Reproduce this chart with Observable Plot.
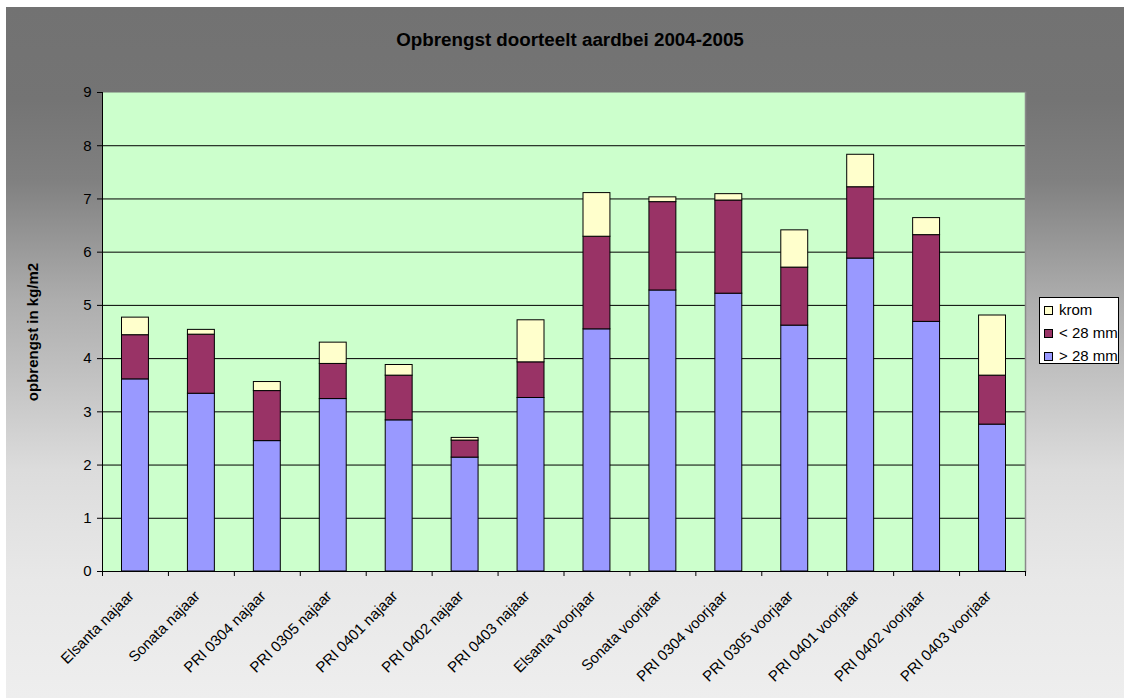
<!DOCTYPE html>
<html>
<head>
<meta charset="utf-8">
<script src="https://cdn.jsdelivr.net/npm/d3@7"></script>
<script src="https://cdn.jsdelivr.net/npm/@observablehq/plot@0.6"></script>
<style>
  html, body { margin: 0; padding: 0; background: #ffffff; }
  body { width: 1124px; height: 698px; position: relative; overflow: hidden; font-family: Arial, "Liberation Sans", sans-serif; }
  #chart {
    position: absolute; left: 6px; top: 7px; width: 1118px; height: 691px;
    background: linear-gradient(to bottom, #727272 0px, #747474 93px, #808080 173px, #adadad 293px, #c0c0c0 363px, #dcdcdc 463px, #e8e8e8 573px, #eeeeee 691px);
  }
  #title {
    position: absolute; left: 5px; width: 1118px; top: 22px; text-align: center;
    font: bold 18.8px Arial, "Liberation Sans", sans-serif; color: #000;
  }
  #legend {
    position: absolute; left: 1033px; top: 290px; width: 80px; height: 67px;
    background: #fff; border: 1px solid #000; box-sizing: border-box;
    font: 15px Arial, "Liberation Sans", sans-serif; color: #000;
  }
  .item { position: absolute; left: 4px; height: 18px; line-height: 18px; white-space: nowrap; }
  .sw { display: inline-block; width: 7px; height: 7px; border: 1px solid #000; vertical-align: middle; margin-right: 6px; position: relative; top: -1px; }
  #plot { position: absolute; left: 0; top: 0; }
</style>
</head>
<body>
<div id="chart">
  <div id="plot"></div>
  <div id="title">Opbrengst doorteelt aardbei 2004-2005</div>
  <div id="legend"></div>
</div>
<script>
const categories = [
  "Elsanta najaar", "Sonata najaar", "PRI 0304 najaar", "PRI 0305 najaar",
  "PRI 0401 najaar", "PRI 0402 najaar", "PRI 0403 najaar",
  "Elsanta voorjaar", "Sonata voorjaar", "PRI 0304 voorjaar", "PRI 0305 voorjaar",
  "PRI 0401 voorjaar", "PRI 0402 voorjaar", "PRI 0403 voorjaar"
];
const seriesNames = ["> 28 mm", "< 28 mm", "krom"];
const over28 = [3.61, 3.34, 2.45, 3.24, 2.84, 2.14, 3.26, 4.55, 5.28, 5.22, 4.62, 5.88, 4.69, 2.76];
const under28 = [0.83, 1.11, 0.94, 0.66, 0.84, 0.32, 0.67, 1.74, 1.66, 1.75, 1.09, 1.34, 1.63, 0.92];
const krom = [0.33, 0.09, 0.17, 0.40, 0.20, 0.05, 0.79, 0.82, 0.09, 0.12, 0.70, 0.61, 0.32, 1.13];
const seriesColors = ["#9999ff", "#993366", "#ffffcc"];
const yTicks = [0, 1, 2, 3, 4, 5, 6, 7, 8, 9];
const gridTicks = [1, 2, 3, 4, 5, 6, 7, 8];
const yLabel = "opbrengst in kg/m2";

const seriesValues = [over28, under28, krom];
const data = categories.flatMap((c, i) =>
  seriesNames.map((s, j) => ({category: c, series: s, value: seriesValues[j][i]}))
);

const W = 1118, H = 691, ML = 96, MR = 99, MT = 85, MB = 127;
const bw = (W - ML - MR) / categories.length;
const font = "Arial, 'Liberation Sans', sans-serif";

const chart = Plot.plot({
  width: W, height: H,
  marginLeft: ML, marginRight: MR, marginTop: MT, marginBottom: MB,
  style: {background: "transparent", fontFamily: font, color: "#000", overflow: "visible"},
  x: {type: "band", domain: categories, padding: 0, round: false, axis: null},
  y: {domain: [0, 9], axis: null},
  color: {domain: seriesNames, range: seriesColors},
  marks: [
    Plot.frame({fill: "#ccffcc", stroke: null}),
    Plot.gridY({ticks: gridTicks, stroke: "#000", strokeOpacity: 1, strokeWidth: 1}),
    Plot.frame({anchor: "right", stroke: "#8a8a8a", strokeWidth: 1.5}),
    Plot.barY(data, {x: "category", y: "value", fill: "series", stroke: "#000", strokeWidth: 1, insetLeft: 19.5, insetRight: 19.5}),
    Plot.frame({anchor: "left", stroke: "#000"}),
    Plot.ruleY([0], {stroke: "#000"}),
    Plot.axisY({ticks: yTicks, tickSize: 5, tickPadding: 6, fontSize: 15, label: null, stroke: "#000"}),
    Plot.axisX({tickSize: 5, tickFormat: () => "", dx: -bw / 2, label: null}),
    Plot.axisX({ticks: [categories[categories.length - 1]], tickSize: 5, tickFormat: () => "", dx: bw / 2, label: null}),
    Plot.axisX({tickSize: 0, tickRotate: -45, tickPadding: 22, dx: -4, fontSize: 15, label: null}),
    Plot.text([yLabel], {frameAnchor: "left", textAnchor: "middle", rotate: -90, dx: -69, fontWeight: "bold", fontSize: 15, fill: "#000"})
  ]
});
document.getElementById("plot").appendChild(chart);

const legend = document.getElementById("legend");
const legendOrder = [2, 1, 0];
legendOrder.forEach((j, k) => {
  const it = document.createElement("div");
  it.className = "item";
  it.style.top = (10 + k * 23 - 7) + "px";
  const sw = document.createElement("span");
  sw.className = "sw";
  sw.style.background = seriesColors[j];
  it.appendChild(sw);
  it.appendChild(document.createTextNode(seriesNames[j]));
  legend.appendChild(it);
});
</script>
</body>
</html>
